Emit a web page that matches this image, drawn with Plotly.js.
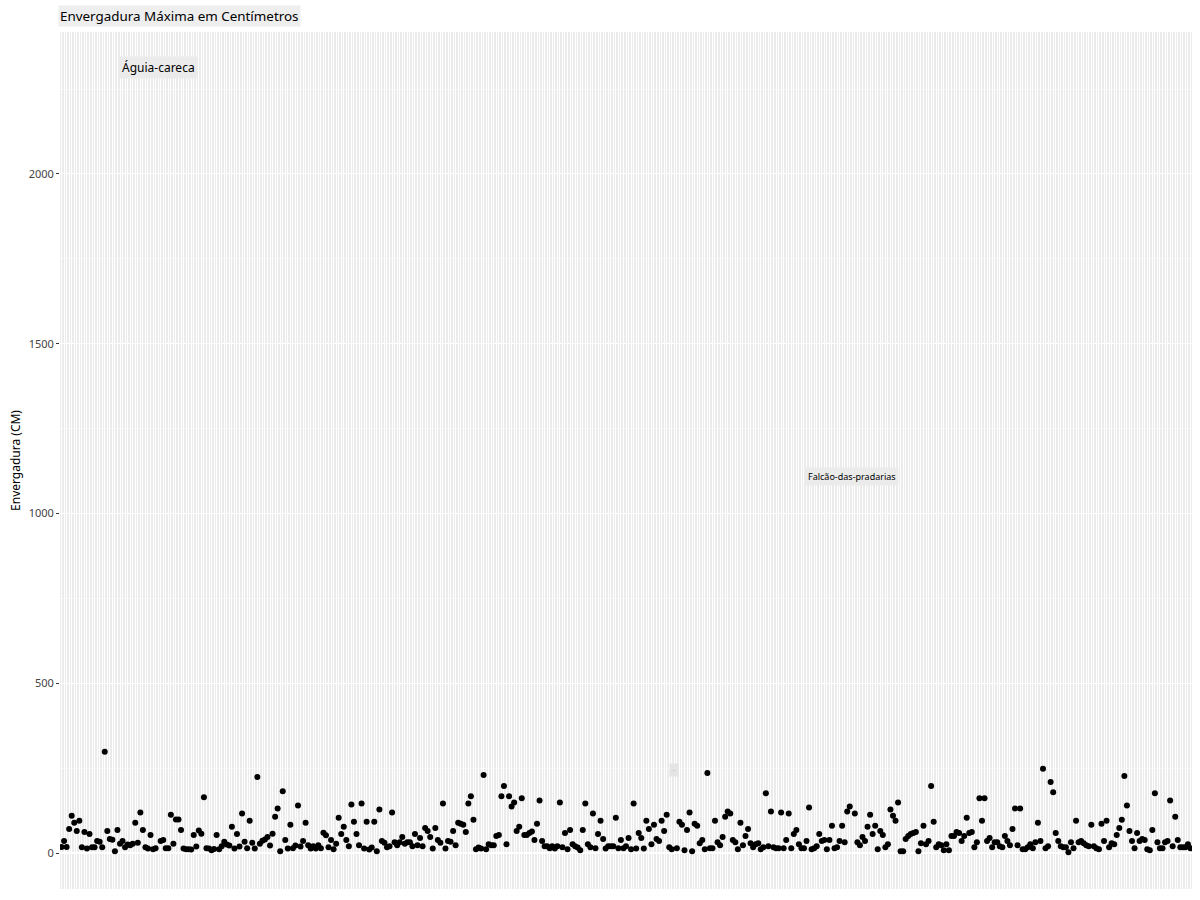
<!DOCTYPE html>
<html>
<head>
<meta charset="utf-8">
<script src="https://cdn.plot.ly/plotly-3.0.1.min.js"></script>
<style>
  body { margin: 0; background: white; }
  #chart { width: 1200px; height: 900px; }
</style>
</head>
<body>
<div id="chart"></div>
<script>
// max wingspan per bird (cm), in the order of the x categories
var wingspanA = [18,35,18,71,110,89,65,95,17,62,13,56,17,17,35,33,17,298,65,41,39,5,68,27,35,17,25,23,27,89,30,119,68,17,13,53,11,14,
  2312,
  35,38,14,14,113,27,99,99,68,13,11,11,10,53,19,66,57,164,14,13,8,12,53,11,20,33,25,22,77,13,56,19,116,33,14,95,30,13,224,27,36,40,
  47,22,57,107,131,5,182,38,13,83,14,22,140,19,35,89,23,13,20,13,23,14,60,52,17,38,11,27,104,56];
var wingspanB = [77,38,20,143,92,56,23,146,13,92,10,16,92,5,128,35,30,17,20,119,32,23,32,47,27,32,32,20,56,23,
  44,20,74,65,47,13,74,38,30,146,13,35,33,65,23,89,86,83,62,146,167,98,11,16,13,230,11,26,23,23,
  50,53,167,197,26,167,137,149,65,77,161,53,53,59,63,38,86,155,35,20,20,14,20,13,20,149,17,59,11,68,
  26,20,16,8,68,146,26,17,116,14,56,95,41,13,20,20,20,104,14,38,14,20,44,11,146];
var wingspanC = [13,59,44,13,95,71,26,83,41,35,95,65,113,17,11,
  244,
  14,92,83,8,68,119,5,86,80,29,38,11,236,14,14,95,32,23,47,107,122,116,38,32,11,89,23,50,71,29,17,26,29,11,17,
  176,20,122,17,14,14,119,14,38,116,14,56,68,26,14,14,35,134,11,14,20,56,35,38,11,38,80,14,17,35,80,32,122,137,
  1110,
  116,32,23,47,35,77,113,56,80,11,65,53,17,26,128,110,95,149,5,5,41,50,56,59,62,5,29,80];
var wingspanD = [26,35,197,92,17,26,23,8,26,8,50,50,62,59,35,50,104,59,62,17,32,161,95,161,35,44,17,32,32,20,
  17,50,35,23,71,131,23,131,11,11,17,26,14,32,89,35,248,14,20,209,179,59,35,20,17,17,2,32,14,95,
  32,35,29,23,20,83,20,14,11,86,35,95,17,29,26,53,74,98,227,140,65,35,14,59,35,41,38,11,8,68,
  176,32,14,14,32,35,155,20,107,38,17,17,17,26,14];

// labelled birds and their category position
var labelNames = ['Águia-careca', '-', 'Falcão-das-pradarias'];
var labelAt = [38, 241, 311];
var labelSizes = [12, 5, 9];

var wingspan = wingspanA.concat(wingspanB, wingspanC, wingspanD);
var birds = wingspan.map(function (v, i) { return i; });

var trace1 = {
  x: birds,
  y: wingspan,
  type: 'scatter',
  mode: 'markers',
  marker: { color: 'black', size: 6 },
  hoverinfo: 'y'
};

var notes = labelNames.map(function (name, k) {
  return {
    x: labelAt[k],
    y: wingspan[labelAt[k]],
    xref: 'x', yref: 'y',
    text: name,
    showarrow: false,
    xanchor: 'center', yanchor: 'middle',
    bgcolor: k == 1 ? '#e4e4e4' : '#ebebeb',
    borderpad: k == 1 ? 3 : 2,
    font: { family: 'Noto Sans', size: labelSizes[k], color: k == 1 ? '#888888' : 'black' }
  };
});

// title with its grey box
notes.push({
  xref: 'paper', yref: 'paper',
  x: -0.002, y: 1.019,
  xanchor: 'left', yanchor: 'middle',
  text: 'Envergadura Máxima em Centímetros',
  showarrow: false,
  bgcolor: '#eeeeee',
  borderpad: 1,
  font: { family: 'Noto Sans', size: 13.4, color: 'black' }
});

var layout = {
  width: 1200,
  height: 900,
  margin: { l: 60, r: 8, t: 32, b: 11 },
  paper_bgcolor: 'white',
  plot_bgcolor: '#ebebeb',
  showlegend: false,
  font: { family: 'Noto Sans', color: '#444444' },
  xaxis: {
    range: [-0.6, wingspan.length - 0.4],
    tick0: 0,
    dtick: 1,
    showgrid: true,
    gridcolor: 'white',
    gridwidth: 1,
    showticklabels: false,
    ticks: '',
    zeroline: false,
    showline: false
  },
  yaxis: {
    range: [-106, 2418],
    tick0: 0,
    dtick: 500,
    showgrid: true,
    gridcolor: 'white',
    gridwidth: 1.1,
    minor: { dtick: 250, tick0: 0, showgrid: true, gridcolor: 'white', gridwidth: 0.5, ticks: '' },
    ticks: 'outside',
    ticklen: 3,
    tickwidth: 1,
    tickcolor: '#333333',
    tickfont: { family: 'Noto Sans', size: 11, color: '#444444' },
    zeroline: false,
    showline: false,
    automargin: false,
    title: { text: 'Envergadura (CM)', standoff: 5, font: { family: 'Noto Sans', size: 12, color: 'black' } }
  },
  annotations: notes
};

Plotly.newPlot('chart', [trace1], layout, { displayModeBar: false, staticPlot: true });
</script>
</body>
</html>
